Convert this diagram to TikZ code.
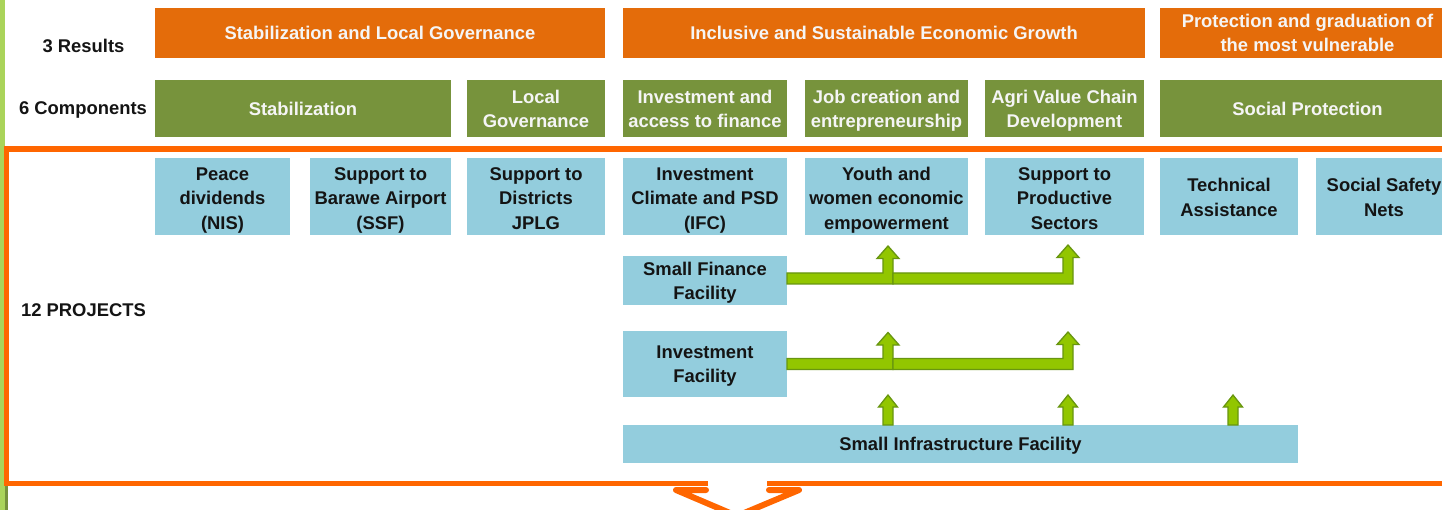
\documentclass[tikz,border=0pt]{standalone}
\usepackage{fontspec}
\setmainfont{Liberation Sans}
\usetikzlibrary{calc}
\definecolor{resorange}{RGB}{228,108,10}
\definecolor{compgreen}{RGB}{119,147,60}
\definecolor{projblue}{RGB}{147,205,221}
\definecolor{frameorange}{RGB}{255,102,0}
\definecolor{arrfill}{RGB}{146,198,0}
\definecolor{arrline}{RGB}{104,150,16}
\definecolor{stripgreen}{RGB}{170,212,90}
\definecolor{stripdark}{RGB}{118,146,60}
\definecolor{txtwhite}{RGB}{245,245,245}
\definecolor{txtdark}{RGB}{20,20,20}
% text block moved down by #1 inside its node (bottom extent reduced)
\newcommand\lowtxt[2]{\raisebox{0pt}[\height][\dimexpr\depth-#1-#1\relax]{\begin{tabular}{@{}c@{}}#2\end{tabular}}}
\newcommand\bentarr[4]{% start x, tip x, bar centre y, tip y
  \filldraw[blockarrow] (#1,#3-5.5) -- (#2-5,#3-5.5) -- (#2-5,#4+12.5) -- (#2-11,#4+12.5) -- (#2,#4)
    -- (#2+11,#4+12.5) -- (#2+5,#4+12.5) -- (#2+5,#3+5.5) -- (#1,#3+5.5) -- cycle;}
\newcommand\smallarr[3]{% tip x, tip y, base y
  \filldraw[blockarrow] (#1-5,#3) -- (#1-5,#2+12) -- (#1-9.5,#2+12) -- (#1,#2)
    -- (#1+9.5,#2+12) -- (#1+5,#2+12) -- (#1+5,#3) -- cycle;}
\begin{document}
\begin{tikzpicture}[x=1pt,y=-1pt,
  box/.style={rectangle, inner sep=0pt, align=center, font=\fontsize{18.4}{24.5}\selectfont\bfseries},
  resbox/.style={box, fill=resorange, text=txtwhite, minimum height=50},
  compbox/.style={box, fill=compgreen, text=txtwhite, minimum height=57},
  projbox/.style={box, fill=projblue, text=txtdark},
  rowlabel/.style={inner sep=0pt, font=\fontsize{18.4}{22}\selectfont\bfseries, text=txtdark},
  blockarrow/.style={fill=arrfill, draw=arrline, line width=1.3pt, line join=miter},
  frameline/.style={draw=frameorange, line width=5.5pt},
]
\useasboundingbox (0,0) rectangle (1442,510);
\clip (0,0) rectangle (1442,510);
\fill[white] (0,0) rectangle (1442,510);
% left strip
\fill[stripgreen] (0,0) rectangle (4.5,510);
\fill[stripdark] (4.5,486) rectangle (7.5,510);

% row labels
\node[rowlabel] (lres) at (83.5,46) {3 Results};
\node[rowlabel] (lcomp) at (83,110) {6 Components};
\node[rowlabel] (lproj) at (83.5,310) {12 PROJECTS};

% results
\node[resbox, minimum width=450] (r1) at (380,33) {Stabilization and Local Governance};
\node[resbox, minimum width=522] (r2) at (884,33) {Inclusive and Sustainable Economic Growth};
\node[resbox, minimum width=295] (r3) at (1307.5,33) {\lowtxt{1.8pt}{Protection and graduation of\\the most vulnerable}};

% components
\node[compbox, minimum width=296] (c1) at (303,108.5) {\lowtxt{2.5pt}{Stabilization}};
\node[compbox, minimum width=138] (c2) at (536,108.5) {\lowtxt{2pt}{Local\\Governance}};
\node[compbox, minimum width=164] (c3) at (705,108.5) {\lowtxt{2pt}{Investment and\\access to finance}};
\node[compbox, minimum width=163] (c4) at (886.5,108.5) {\lowtxt{2pt}{Job creation and\\entrepreneurship}};
\node[compbox, minimum width=159] (c5) at (1064.5,108.5) {\lowtxt{2pt}{Agri Value Chain\\Development}};
\node[compbox, minimum width=295] (c6) at (1307.5,108.5) {\lowtxt{2.5pt}{Social Protection}};

% frame
\draw[frameline, line join=miter] (708,483.5) -- (6.5,483.5) -- (6.5,149) -- (1470,149) -- (1470,483.5) -- (767,483.5);
\draw[draw=frameorange, line width=6pt, line join=round, line cap=round]
  (706,490) -- (676,490) -- (737,516) -- (799,490) -- (769,490);

% projects
\node[projbox, minimum width=135, minimum height=77] (p1) at (222.5,196.5) {\lowtxt{3.5pt}{Peace\\dividends\\(NIS)}};
\node[projbox, minimum width=141, minimum height=77] (p2) at (380.5,196.5) {\lowtxt{3.5pt}{Support to\\Barawe Airport\\(SSF)}};
\node[projbox, minimum width=138, minimum height=77] (p3) at (536,196.5) {\lowtxt{3.5pt}{Support to\\Districts\\JPLG}};
\node[projbox, minimum width=164, minimum height=77] (p4) at (705,196.5) {\lowtxt{3.5pt}{Investment\\Climate and PSD\\(IFC)}};
\node[projbox, minimum width=163, minimum height=77] (p5) at (886.5,196.5) {\lowtxt{3.5pt}{Youth and\\women economic\\empowerment}};
\node[projbox, minimum width=159, minimum height=77] (p6) at (1064.5,196.5) {\lowtxt{3.5pt}{Support to\\Productive\\Sectors}};
\node[projbox, minimum width=138, minimum height=77] (p7) at (1229,196.5) {\lowtxt{2.5pt}{Technical\\Assistance}};
\node[projbox, minimum width=136, minimum height=77] (p8) at (1384,196.5) {\lowtxt{2.5pt}{Social Safety\\Nets}};

\node[projbox, minimum width=164, minimum height=49] (sff) at (705,280.5) {\lowtxt{2pt}{Small Finance\\Facility}};
\node[projbox, minimum width=164, minimum height=66] (inf) at (705,364) {\lowtxt{1.5pt}{Investment\\Facility}};
\node[projbox, minimum width=675, minimum height=38] (sif) at (960.5,444) {\lowtxt{2pt}{Small Infrastructure Facility}};

% green block arrows
\bentarr{787}{888}{278.5}{246}
\bentarr{893}{1068}{278.5}{245}
\bentarr{787}{888}{364}{332.5}
\bentarr{893}{1068}{364}{332}
\smallarr{888}{395}{425}
\smallarr{1068}{395}{425}
\smallarr{1233}{395}{425}
\end{tikzpicture}
\end{document}
